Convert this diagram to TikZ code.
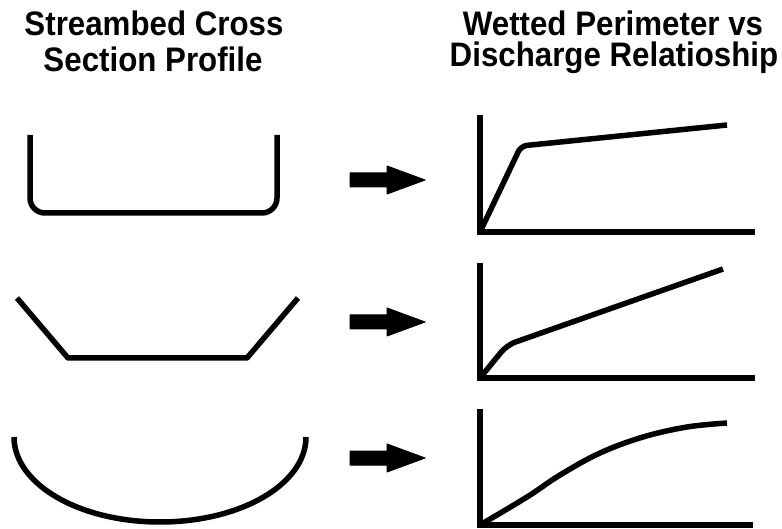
\documentclass[tikz,border=0pt]{standalone}
\usepackage{fontspec}
\setmainfont{Liberation Sans}
\begin{document}
\begin{tikzpicture}[x=1pt,y=-1pt,
  ttl/.style={font=\bfseries\fontsize{34}{34}\selectfont, xscale=0.92, anchor=base, inner sep=0pt},
  stroke/.style={line width=5.5pt, line join=round},
  axes/.style={line width=5.5pt, line join=miter},
  blockarrow/.style={fill=black, draw=black, line width=1pt, line join=round}]
\useasboundingbox (0,0) rectangle (782,529);
% titles
\node[ttl] (tl1) at (154,36) {Streambed Cross};
\node[ttl] (tl2) at (153,72) {Section Profile};
\node[ttl] (tr1) at (613,36) {Wetted Perimeter vs};
\node[ttl] (tr2) at (614,67) {Discharge Relatioship};
% profile 1: rounded U
\draw[stroke, rounded corners=15pt] (30,135) -- (30,213) -- (277,213) -- (277,135);
% profile 2: trapezoid
\draw[stroke] (17,298) -- (68,358) -- (247,358) -- (298,298);
% profile 3: half ellipse
\draw[stroke] (14,437) .. controls (14,484) and (79,522) .. (160,522)
  .. controls (241,522) and (306,484) .. (306,437);
% block arrows
\foreach \yy/\nm in {180/a1, 322/a2, 458/a3}{
  \draw[blockarrow] (350,\yy-7) -- (387,\yy-7) -- (387,\yy-14) -- (425,\yy) -- (387,\yy+14) -- (387,\yy+7) -- (350,\yy+7) -- cycle;
}
% graph 1
\draw[axes] (480,115) -- (480,232) -- (755,232);
\draw[stroke, rounded corners=6pt] (480,232) -- (521,146) -- (727,125);
% graph 2
\draw[axes] (480,263) -- (480,378) -- (755,378);
\draw[stroke, rounded corners=9pt] (480,378) -- (507,345) -- (723,269);
% graph 3
\draw[axes] (480,409) -- (480,525) -- (753,525);
\draw[stroke] plot[smooth, tension=0.6] coordinates {(480,525) (527,497) (560,475) (600,453) (643,437) (687,427) (727,423)};
\end{tikzpicture}
\end{document}
